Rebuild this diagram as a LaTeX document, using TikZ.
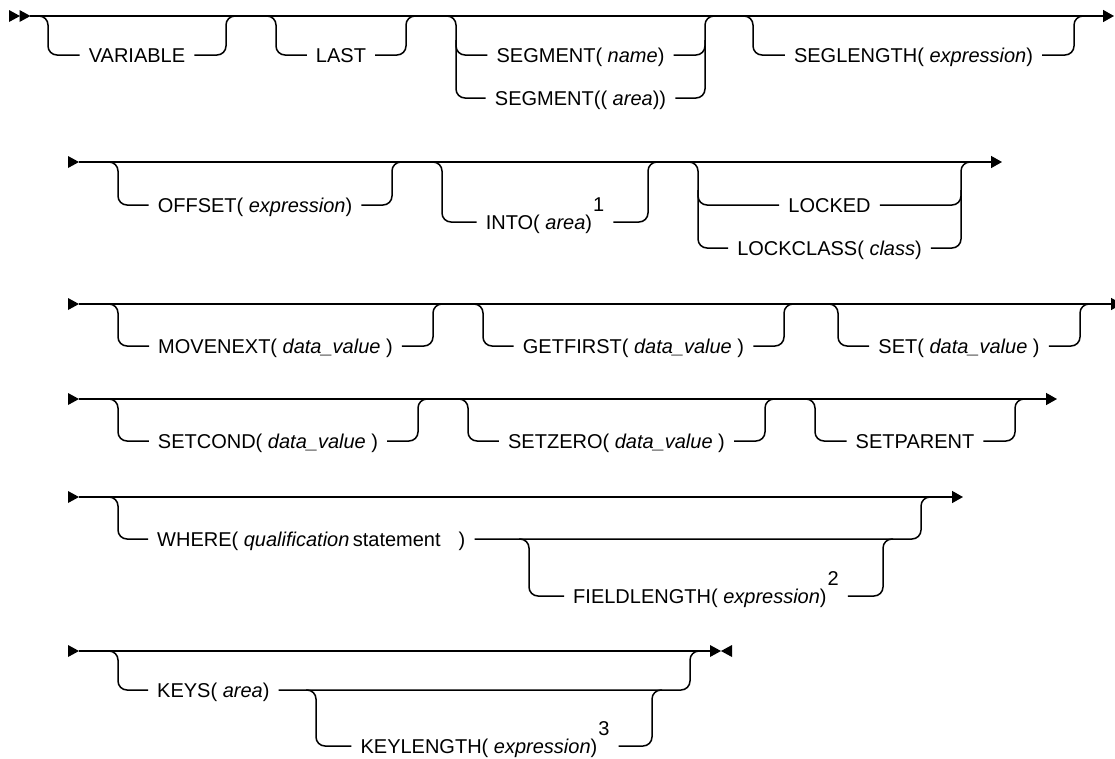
\documentclass[tikz,border=0pt]{standalone}
\usepackage{fontspec}
\setmainfont{Liberation Sans}
\usetikzlibrary{arrows.meta}

% raised footnote number after a keyword
\newcommand{\notemark}[1]{\kern1pt\raisebox{18pt}{\fontsize{20}{20}\selectfont #1}}

\begin{document}
\begin{tikzpicture}[
    x=1pt, y=-1pt,
    track/.style={line width=1.5pt, rounded corners=9pt},
    mainline/.style={line width=1.5pt, -{Triangle[length=11pt,width=12pt]}},
    lbl/.style={font=\fontsize{20}{24}\selectfont, inner xsep=9pt, inner ysep=0pt,
                text height=15pt, text depth=1pt},
    headmark/.pic={\fill (0,-6) -- (11,0) -- (0,6) -- cycle;},
    tailmark/.pic={\fill (11,-6) -- (0,0) -- (11,6) -- cycle;},
    ]
    \useasboundingbox (0,0) rectangle (1115,758);
    \clip (0,0) rectangle (1115,758);

    % --- Row 1 ---
    \pic at (9,16) {headmark};
    \pic at (19.5,16) {headmark};
    \coordinate (r1s) at (30,16);
    \coordinate (r1e) at (1114,16);
    \draw[mainline] (r1s) -- (r1e);

    % VARIABLE
    \node[lbl] (variable) at (137,55) {VARIABLE};
    \draw[track] (38,16) -| (48,55) -- (variable.west);
    \draw[track] (variable.east) -| (226,16) -- (236,16);

    % LAST
    \node[lbl] (last) at (341,55) {LAST};
    \draw[track] (266,16) -| (276,55) -- (last.west);
    \draw[track] (last.east) -| (406,16) -- (416,16);

    % SEGMENT( name ) / SEGMENT(( area ))
    \node[lbl] (segname) at (580.5,55) {SEGMENT( \textit{name})};
    \node[lbl] (segarea) at (580.5,98) {SEGMENT(( \textit{area}))};
    \draw[track] (446,16) -| (456,98) -- (segarea.west);
    \draw[track] (456,40) |- (segname.west);
    \draw[track] (segarea.east) -| (705,16) -- (715,16);
    \draw[track] (segname.east) -| (705,40);

    % SEGLENGTH
    \node[lbl] (seglength) at (913.5,55) {SEGLENGTH( \textit{expression})};
    \draw[track] (743,16) -| (753,55) -- (seglength.west);
    \draw[track] (seglength.east) -| (1074,16) -- (1084,16);

    % --- Row 2 ---
    \pic at (68,162) {headmark};
    \coordinate (r2s) at (79,162);
    \coordinate (r2e) at (1002,162);
    \draw[mainline] (r2s) -- (r2e);

    % OFFSET
    \node[lbl] (offset) at (255,205) {OFFSET( \textit{expression})};
    \draw[track] (108,162) -| (118,205) -- (offset.west);
    \draw[track] (offset.east) -| (392,162) -- (402,162);

    % INTO (note 1)
    \node[lbl] (into) at (545,222) {INTO( \textit{area})\notemark{1}};
    \draw[track] (432,162) -| (442,222) -- (into.west);
    \draw[track] (into.east) -| (648,162) -- (658,162);

    % LOCKED / LOCKCLASS
    \node[lbl] (locked) at (829.5,205) {LOCKED};
    \node[lbl] (lockclass) at (829.5,248) {LOCKCLASS( \textit{class})};
    \draw[track] (688,162) -| (698,248) -- (lockclass.west);
    \draw[track] (698,190) |- (locked.west);
    \draw[track] (lockclass.east) -| (961,162) -- (971,162);
    \draw[track] (locked.east) -| (961,190);

    % --- Row 3 ---
    \pic at (68,304) {headmark};
    \coordinate (r3s) at (79,304);
    \coordinate (r3e) at (1122,304);
    \draw[mainline] (r3s) -- (r3e);

    % MOVENEXT
    \node[lbl] (movenext) at (275.5,346) {MOVENEXT( \textit{data\_value} )};
    \draw[track] (108,304) -| (118,346) -- (movenext.west);
    \draw[track] (movenext.east) -| (433,304) -- (443,304);

    % GETFIRST
    \node[lbl] (getfirst) at (633.5,346) {GETFIRST( \textit{data\_value} )};
    \draw[track] (473,304) -| (483,346) -- (getfirst.west);
    \draw[track] (getfirst.east) -| (784,304) -- (794,304);

    % SET
    \node[lbl] (set) at (959,346) {SET( \textit{data\_value} )};
    \draw[track] (828,304) -| (838,346) -- (set.west);
    \draw[track] (set.east) -| (1080,304) -- (1090,304);

    % --- Row 4 ---
    \pic at (68,399) {headmark};
    \coordinate (r4s) at (79,399);
    \coordinate (r4e) at (1057,399);
    \draw[mainline] (r4s) -- (r4e);

    % SETCOND
    \node[lbl] (setcond) at (268,441) {SETCOND( \textit{data\_value} )};
    \draw[track] (108,399) -| (118,441) -- (setcond.west);
    \draw[track] (setcond.east) -| (418,399) -- (428,399);

    % SETZERO
    \node[lbl] (setzero) at (616.5,441) {SETZERO( \textit{data\_value} )};
    \draw[track] (458,399) -| (468,441) -- (setzero.west);
    \draw[track] (setzero.east) -| (765,399) -- (775,399);

    % SETPARENT
    \node[lbl] (setparent) at (915,441) {SETPARENT};
    \draw[track] (805,399) -| (815,441) -- (setparent.west);
    \draw[track] (setparent.east) -| (1015,399) -- (1025,399);

    % --- Row 5 ---
    \pic at (68,497) {headmark};
    \coordinate (r5s) at (79,497);
    \coordinate (r5e) at (963,497);
    \draw[mainline] (r5s) -- (r5e);

    % WHERE, with FIELDLENGTH (note 2) inside it
    \node[lbl, anchor=west] (where) at (148,539)
        {WHERE( \textit{qualification}\,statement\hspace{18pt})};
    \draw[track] (108,497) -| (118,539) -- (where.west);
    \draw[track] (where.east) -| (921,497) -- (931,497);
    \node[lbl] (fieldlength) at (706,596)
        {FIELDLENGTH( \textit{expression})\notemark{2}};
    \draw[track] (519,539) -| (529,596) -- (fieldlength.west);
    \draw[track] (fieldlength.east) -| (883,539) -- (893,539);

    % --- Row 6 ---
    \pic at (68,651) {headmark};
    \coordinate (r6s) at (79,651);
    \coordinate (r6e) at (710,651);
    \draw[line width=1.5pt] (r6s) -- (r6e);
    \pic at (710,651) {headmark};
    \pic at (721,651) {tailmark};

    % KEYS, with KEYLENGTH (note 3) inside it
    \node[lbl, anchor=west] (keys) at (148,690) {KEYS( \textit{area})};
    \draw[track] (108,651) -| (118,690) -- (keys.west);
    \draw[track] (keys.east) -| (690,651) -- (700,651);
    \node[lbl] (keylength) at (485,746)
        {KEYLENGTH( \textit{expression})\notemark{3}};
    \draw[track] (306,690) -| (316,746) -- (keylength.west);
    \draw[track] (keylength.east) -| (652,690) -- (662,690);

\end{tikzpicture}
\end{document}
